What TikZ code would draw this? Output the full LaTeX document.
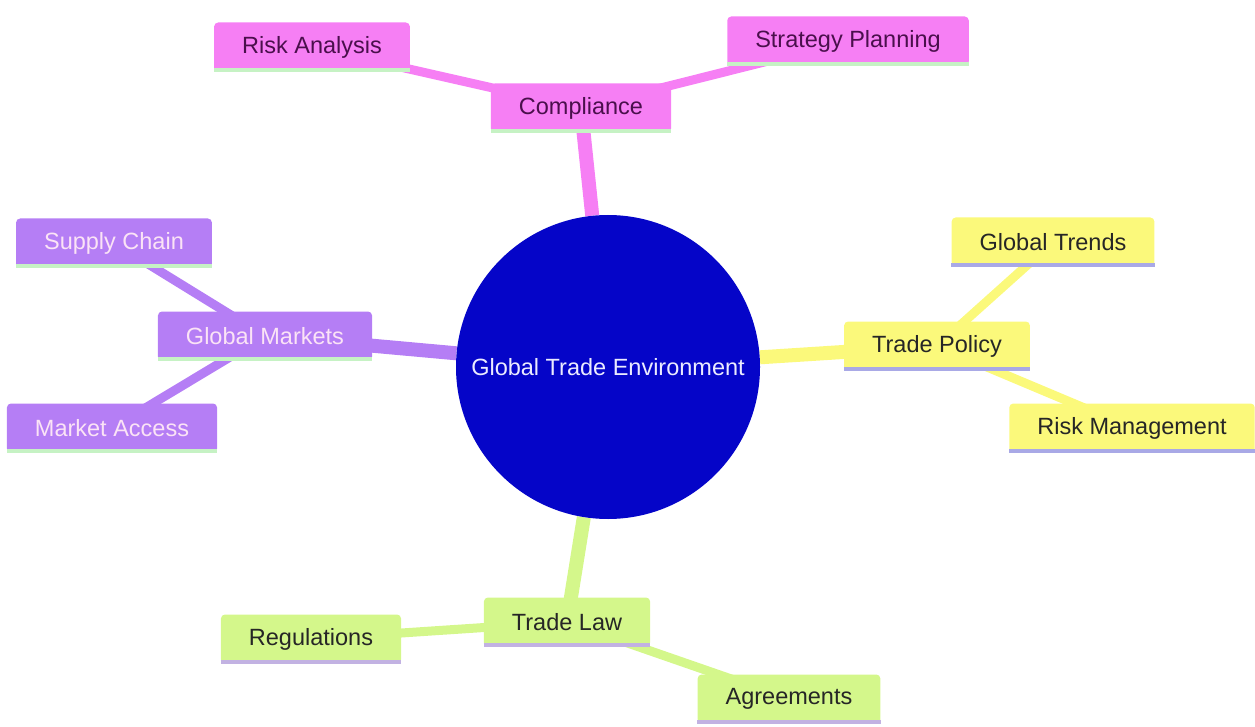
\documentclass[tikz,border=0pt]{standalone}
\usepackage{fontspec}
\setmainfont{Liberation Sans}
\usetikzlibrary{positioning,backgrounds,shapes}

\definecolor{rootblue}{HTML}{0505C8}
\definecolor{pinkfill}{HTML}{F67FF4}
\definecolor{pinktext}{HTML}{4A0F4C}
\definecolor{purplefill}{HTML}{B57EF5}
\definecolor{purpletext}{HTML}{FBE3F6}
\definecolor{yellowfill}{HTML}{FBF97B}
\definecolor{greenfill}{HTML}{D4F78B}
\definecolor{mintline}{HTML}{C6F2C4}
\definecolor{lavline}{HTML}{A9A9E6}
\definecolor{lilacline}{HTML}{C2B2E2}

\tikzset{
	mmbox/.style={rectangle, rounded corners=4pt, minimum height=49pt, inner xsep=28pt, font=\fontsize{23.5}{27}\selectfont},
	underline/.style={append after command={([yshift=1.8pt]\tikzlastnode.south west) edge[draw=#1, line width=3.6pt, -] ([yshift=1.8pt]\tikzlastnode.south east)}},
	pinkbox/.style={mmbox, fill=pinkfill, text=pinktext, underline=mintline},
	purplebox/.style={mmbox, fill=purplefill, text=purpletext, underline=mintline},
	yellowbox/.style={mmbox, fill=yellowfill, text=black!85, underline=lavline},
	greenbox/.style={mmbox, fill=greenfill, text=black!85, underline=lilacline},
	rootnode/.style={circle, fill=rootblue, text=blue!8, minimum size=304pt, inner sep=0pt, font=\fontsize{23.5}{27}\selectfont},
	trunk/.style={line width=14pt},
	twig/.style={line width=9pt}
}

\begin{document}
\begin{tikzpicture}[x=1pt, y=-1pt]
						\useasboundingbox (0,0) rectangle (1255,727);
						\node[rootnode] (gte) at (608,367) {Global Trade Environment};
						
						\node[pinkbox] (comp) at (581,108) {Compliance};
						\node[pinkbox] (riskan) at (312,47) {Risk Analysis};
						\node[pinkbox] (strat) at (848,41) {Strategy Planning};
						
						\node[purplebox] (gmark) at (265,336) {Global Markets};
						\node[purplebox] (supply) at (114,243) {Supply Chain};
						\node[purplebox] (access) at (112,428) {Market Access};
						
						\node[yellowbox] (tpol) at (937,346) {Trade Policy};
						\node[yellowbox] (gtrend) at (1053,242) {Global Trends};
						\node[yellowbox] (riskman) at (1132,428) {Risk Management};
						
						\node[greenbox] (tlaw) at (567,622) {Trade Law};
						\node[greenbox] (regs) at (311,639) {Regulations};
						\node[greenbox] (agree) at (789,699) {Agreements};
						
						\begin{scope}[on background layer]
						\path (gte) edge[trunk, draw=pinkfill] (comp.center)
						(comp.center) edge[twig, draw=pinkfill] (riskan.center)
						edge[twig, draw=pinkfill] (strat.center);
						\path (gte) edge[trunk, draw=purplefill] (gmark.center)
						(gmark.center) edge[twig, draw=purplefill] (supply.center)
						edge[twig, draw=purplefill] (access.center);
						\path (gte) edge[trunk, draw=yellowfill] (tpol.center)
						(tpol.center) edge[twig, draw=yellowfill] (gtrend.center)
						edge[twig, draw=yellowfill] (riskman.center);
						\path (gte) edge[trunk, draw=greenfill] (tlaw.center)
						(tlaw.center) edge[twig, draw=greenfill] (regs.center)
						edge[twig, draw=greenfill] (agree.center);
						\end{scope}
					\end{tikzpicture}
\end{document}
